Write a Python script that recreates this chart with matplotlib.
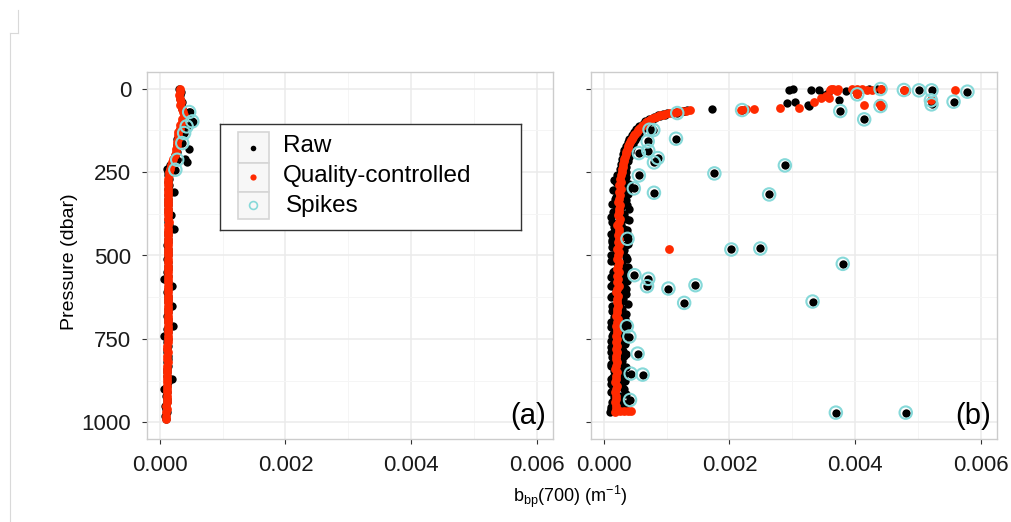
###
# Raw vs quality-controlled bbp(700) profiles, two floats side by side
###

import numpy as np
import matplotlib
matplotlib.use("Agg")
from matplotlib import pyplot as plt
from matplotlib.lines import Line2D
from matplotlib.patches import Rectangle

plt.rcParams['font.family'] = ['Liberation Sans', 'DejaVu Sans']
plt.rcParams['mathtext.fontset'] = 'custom'
plt.rcParams['mathtext.rm'] = 'Liberation Sans'
plt.rcParams['mathtext.it'] = 'Liberation Sans:italic'

# all bbp values below are in 1e-3 m^-1, pressure in dbar
SCALE = 1e-3

# ---- panel (a)
pres_a = [0, 10, 20, 30, 40, 50, 60, 70, 80, 90, 100, 110, 120, 130, 140, 150, 160, 170, 180, 190,
          200, 210, 220, 230, 240, 250, 260, 270, 280, 290, 300, 310, 320, 330, 340, 350, 360, 370,
          380, 390, 400, 410, 420, 430, 440, 450, 460, 470, 480, 490, 500, 510, 520, 530, 540, 550,
          560, 570, 580, 590, 600, 610, 620, 630, 640, 650, 660, 670, 680, 690, 700, 710, 720, 730,
          740, 750, 760, 770, 780, 790, 800, 810, 820, 830, 840, 850, 860, 870, 880, 890, 900, 910,
          920, 930, 940, 950, 960, 970, 980, 990]
qc_a = [0.32, 0.33, 0.31, 0.32, 0.34, 0.33, 0.35,
        0.37, 0.38, 0.36, 0.35, 0.33, 0.32, 0.30,
        0.30, 0.29, 0.28, 0.27, 0.26, 0.26, 0.25,
        0.22, 0.20, 0.18, 0.16, 0.15,
        0.15, 0.14, 0.14, 0.14, 0.14, 0.13, 0.14, 0.13, 0.14, 0.14, 0.13, 0.14, 0.14, 0.14, 0.15,
        0.14, 0.14, 0.13, 0.13, 0.14, 0.13, 0.13, 0.13, 0.14, 0.13, 0.13, 0.14, 0.13, 0.13, 0.13,
        0.14, 0.14, 0.13, 0.13, 0.13,
        0.13, 0.14, 0.14, 0.13, 0.13, 0.14, 0.13, 0.13, 0.13, 0.13, 0.13, 0.13, 0.14, 0.13, 0.13,
        0.13, 0.12, 0.12, 0.13, 0.12,
        0.12, 0.13, 0.12, 0.12, 0.12, 0.12, 0.12, 0.12, 0.12, 0.11, 0.11, 0.11, 0.11, 0.11, 0.10,
        0.11, 0.10, 0.10, 0.10]
raw_a = [0.31, 0.34, 0.32, 0.33, 0.35, 0.34, 0.36,
         0.48, 0.40, 0.37, 0.53, 0.34, 0.33, 0.31,
         0.31, 0.28, 0.29, 0.27, 0.47, 0.27, 0.24,
         0.41, 0.44, 0.17, 0.12, 0.14,
         0.14, 0.15, 0.13, 0.15, 0.14, 0.23, 0.13, 0.14, 0.13, 0.14, 0.14, 0.13, 0.18, 0.13, 0.14,
         0.15, 0.23, 0.13, 0.14, 0.13, 0.14, 0.12, 0.14, 0.13, 0.14, 0.12, 0.13, 0.14, 0.13, 0.12,
         0.13, 0.07, 0.14, 0.20, 0.13,
         0.12, 0.14, 0.13, 0.14, 0.20, 0.13, 0.14, 0.12, 0.13, 0.14, 0.22, 0.12, 0.13, 0.07, 0.14,
         0.12, 0.13, 0.11, 0.12, 0.13,
         0.13, 0.12, 0.13, 0.12, 0.11, 0.12, 0.19, 0.13, 0.11, 0.07, 0.12, 0.10, 0.11, 0.12, 0.09,
         0.10, 0.11, 0.09, 0.10]
spike_a_x = [0.47, 0.52, 0.43, 0.39, 0.36, 0.28, 0.25]
spike_a_p = [70, 98, 113, 133, 163, 213, 243]

# ---- panel (b)
pres_b = [64, 66, 68, 70, 72, 74, 76, 78, 80, 83, 86, 89, 92, 95, 98, 101, 105, 109, 113, 117,
          121, 125, 130, 135, 140, 145, 150, 155, 160, 166, 172, 178, 184, 190, 197, 204, 211, 218,
          226, 234, 242, 250, 260, 270, 280, 290, 300, 310, 320, 330, 340, 350, 360, 370, 380, 390,
          400, 410, 420, 430, 440, 450, 460, 470, 480, 490, 500, 510, 520, 530, 540, 550, 560, 570,
          580, 590, 600, 610, 620, 630, 640, 650, 660, 670, 680, 690, 700, 710, 720, 730, 740, 750,
          760, 770, 780, 790, 800, 810, 820, 830, 840, 850, 860, 870, 880, 890, 900, 910, 920, 930,
          940, 950, 960, 970]
qc_b = [1.37, 1.31, 1.24, 1.17, 1.10, 1.04, 0.98, 0.94, 0.90,
        0.86, 0.83, 0.79, 0.76, 0.73, 0.70, 0.68,
        0.66, 0.63, 0.61, 0.58, 0.56, 0.55,
        0.53, 0.50, 0.49, 0.46, 0.45, 0.44, 0.42,
        0.41, 0.39, 0.38, 0.37, 0.36,
        0.35, 0.34, 0.33, 0.33, 0.31, 0.31, 0.30, 0.29,
        0.28, 0.26, 0.27, 0.25, 0.27, 0.24, 0.26, 0.25, 0.23, 0.26,
        0.24, 0.25, 0.23, 0.26, 0.24, 0.22, 0.25, 0.24, 0.23, 0.25,
        0.23, 0.24, 0.22, 0.25, 0.23, 0.21, 0.24, 0.23, 0.22, 0.24,
        0.22, 0.23, 0.21, 0.24, 0.22, 0.20, 0.23, 0.22, 0.21, 0.23,
        0.21, 0.22, 0.20, 0.23, 0.21, 0.20, 0.22, 0.21, 0.19, 0.22,
        0.20, 0.21, 0.19, 0.22, 0.20, 0.19, 0.21, 0.20, 0.18, 0.21,
        0.19, 0.20, 0.18, 0.21, 0.19, 0.18, 0.20, 0.19, 0.18, 0.20,
        0.19, 0.18]
raw_b = [1.33, 1.28, 1.27, 1.15, 1.08, 1.01, 0.95, 0.97, 0.86,
         0.89, 0.80, 0.82, 0.72, 0.77, 0.66, 0.72,
         0.62, 0.68, 0.57, 0.64, 0.52, 0.60,
         0.49, 0.57, 0.45, 0.53, 0.41, 0.50, 0.38,
         0.47, 0.35, 0.44, 0.33, 0.42,
         0.31, 0.40, 0.29, 0.38, 0.27, 0.36, 0.26, 0.35,
         0.22, 0.34, 0.19, 0.31, 0.38, 0.21, 0.33, 0.18, 0.30, 0.37,
         0.40, 0.15, 0.29, 0.36, 0.13, 0.27, 0.33, 0.17, 0.38, 0.24,
         0.14, 0.35, 0.26, 0.31, 0.12, 0.37, 0.20, 0.28, 0.34, 0.15,
         0.33, 0.18, 0.29, 0.12, 0.36, 0.24, 0.14, 0.31, 0.27, 0.13,
         0.30, 0.16, 0.26, 0.34, 0.12, 0.28, 0.19, 0.32, 0.13, 0.25,
         0.14, 0.30, 0.22, 0.11, 0.33, 0.17, 0.27, 0.12, 0.29, 0.20,
         0.31, 0.12, 0.25, 0.15, 0.33, 0.11, 0.28, 0.18, 0.13, 0.30,
         0.12, 0.10]
# raw samples taken between the QC levels (float samples every ~5 dbar at depth)
pres_b_mid = [265, 275, 285, 295, 305, 315, 325, 335, 345, 355, 365, 375, 385, 395, 405, 415, 425,
              435, 445, 455, 465, 475, 485, 495, 505, 515, 525, 535, 545, 555, 565, 575, 585, 595,
              605, 615, 625, 635, 645, 655, 665, 675, 685, 695, 705, 715, 725, 735, 745, 755, 765,
              775, 785, 795, 805, 815, 825, 835, 845, 855, 865, 875, 885, 895, 905, 915, 925, 935,
              945, 955, 965]
raw_b_mid = [0.36, 0.17, 0.40, 0.23, 0.15, 0.39, 0.20, 0.35, 0.13, 0.28,
             0.19, 0.33, 0.12, 0.41, 0.21, 0.16, 0.37, 0.11, 0.30, 0.14,
             0.38, 0.13, 0.32, 0.18, 0.36, 0.11, 0.29, 0.39, 0.16, 0.33,
             0.11, 0.37, 0.15, 0.32, 0.19, 0.35, 0.12, 0.28, 0.38, 0.16,
             0.13, 0.35, 0.17, 0.29, 0.37, 0.11, 0.33, 0.15, 0.30, 0.12,
             0.34, 0.11, 0.31, 0.36, 0.14, 0.29, 0.12, 0.35, 0.16, 0.32,
             0.15, 0.34, 0.11, 0.30, 0.13, 0.36, 0.16, 0.27, 0.35, 0.12,
             0.11]

# surface layer (0-65 dbar) and odd points outside the main profile
raw_b_extra_x = [1.73, 2.95, 3.01, 2.92, 3.04, 3.24, 3.29, 3.42, 3.50, 3.56, 3.74, 3.85, 4.22,
                 4.35, 3.27]
raw_b_extra_p = [62, 3, 0, 43, 40, 48, 5, 5, 18, 13, 33, 8, 1, 0, 52]
qc_b_extra_x = [2.18, 2.26, 2.39, 2.81, 3.10, 3.34, 3.45, 3.53, 3.58, 3.61, 3.65, 3.73, 3.95,
                4.03, 4.11, 4.19, 4.27, 4.03, 4.14, 4.38, 4.40, 4.40, 4.77, 4.80, 5.20, 5.59,
                3.71, 3.60, 1.04, 0.26, 0.32, 0.38, 0.44]
qc_b_extra_p = [63, 60, 60, 58, 58, 41, 27, 22, 29, 0, 0, 0, 0,
                0, 0, 3, 3, 15, 50, 43, 53, 1, 3, 6, 33, 5,
                7, 5, 480, 967, 966, 967, 966]
spike_b_x = [2.20, 1.17, 3.76, 4.14, 4.40, 4.40, 4.77, 5.01, 5.21, 5.20, 5.21, 5.56, 5.78, 4.03,
             0.73, 0.79, 0.70, 1.15, 0.56, 0.71, 0.86, 0.80, 0.56, 1.76, 2.88, 0.48, 0.80, 2.63,
             0.38, 2.03, 2.49, 3.80, 0.49, 0.71, 0.69, 1.03, 1.46, 1.28, 3.32, 0.37, 0.41, 0.54,
             0.43, 0.62, 0.42, 3.69, 4.80]
spike_b_p = [64, 73, 67, 92, 52, 1, 4, 5, 5, 35, 47, 39, 9, 17,
             123, 124, 158, 150, 193, 186, 208, 221, 260, 254, 230, 299, 312, 317,
             450, 482, 479, 525, 559, 570, 592, 599, 589, 642, 638, 712, 743, 794,
             854, 857, 933, 971, 971]

RAW_COL = 'black'
QC_COL = '#ff2a00'
SPIKE_COL = '#86d9d9'

x_ticks = [0.0, 0.002, 0.004, 0.006]
x_ticklabels = ['0.000', '0.002', '0.004', '0.006']
y_ticks = [0, 250, 500, 750, 1000]


def style_panel(ax, show_ylabels):
    ax.set_xlim(-0.0002, 0.00625)
    ax.set_ylim(1050, -50)
    ax.set_xticks(x_ticks)
    ax.set_xticklabels(x_ticklabels)
    ax.set_xticks([0.001, 0.003, 0.005], minor=True)
    ax.set_yticks(y_ticks)
    ax.set_yticks([125, 375, 625, 875], minor=True)
    ax.grid(which='major', color='#ebebeb', lw=1.1)
    ax.grid(which='minor', color='#f5f5f5', lw=0.7)
    ax.set_axisbelow(True)
    for s in ax.spines.values():
        s.set_color('#cccccc')
        s.set_linewidth(1.0)
    ax.tick_params(which='major', length=3.5, width=0.8, color='#333333',
                   labelsize=16, labelcolor='#1a1a1a', pad=8)
    ax.tick_params(which='minor', length=0)
    if show_ylabels:
        for lbl in ax.get_yticklabels():
            lbl.set_fontfamily(['Liberation Sans Narrow', 'Liberation Sans'])
    else:
        ax.set_yticklabels([])


def draw_profile(ax, raw_sets, qc_sets, spk_x, spk_p):
    for xs, ps in raw_sets:
        ax.scatter(np.array(xs) * SCALE, ps, s=36, color=RAW_COL, lw=0, zorder=2)
    ax.scatter(np.array(spk_x) * SCALE, spk_p, s=36, color=RAW_COL, lw=0, zorder=2)
    for xs, ps in qc_sets:
        ax.scatter(np.array(xs) * SCALE, ps, s=40, color=QC_COL, lw=0, zorder=3)
    ax.scatter(np.array(spk_x) * SCALE, spk_p, s=80, facecolors='none',
               edgecolors=SPIKE_COL, linewidths=1.5, zorder=4)


fig = plt.figure(figsize=(10.12, 5.22), dpi=100)
W, H = 1012.0, 522.0

ax_a = fig.add_axes([147 / W, 1 - 439 / H, 406 / W, 367 / H])
ax_b = fig.add_axes([591 / W, 1 - 439 / H, 406 / W, 367 / H])

draw_profile(ax_a, [(raw_a, pres_a)], [(qc_a, pres_a)], spike_a_x, spike_a_p)
draw_profile(ax_b,
             [(raw_b, pres_b), (raw_b_mid, pres_b_mid), (raw_b_extra_x, raw_b_extra_p)],
             [(qc_b, pres_b), (qc_b_extra_x, qc_b_extra_p)],
             spike_b_x, spike_b_p)

style_panel(ax_a, True)
style_panel(ax_b, False)

ax_a.text(0.982, 0.063, '(a)', transform=ax_a.transAxes, ha='right', va='center', fontsize=21)
ax_b.text(0.985, 0.063, '(b)', transform=ax_b.transAxes, ha='right', va='center', fontsize=21)

fig.text(70 / W, 1 - 262 / H, 'Pressure (dbar)', rotation=90, ha='center', va='center', fontsize=14)
fig.text(570 / W, 1 - 497 / H, r'b$_{\mathrm{bp}}$(700) (m$^{\mathrm{-1}}$)',
         ha='center', va='center', fontsize=13)

# hand-made ggplot style legend box
leg = fig.add_axes([220 / W, 1 - 230 / H, 301 / W, 106 / H])
leg.set_xlim(0, 301)
leg.set_ylim(106, 0)
leg.set_xticks([])
leg.set_yticks([])
for s in leg.spines.values():
    s.set_color('#333333')
    s.set_linewidth(1.0)
rows = [(8, 31), (39, 29), (68, 27)]
for y0, hgt in rows:
    leg.add_patch(Rectangle((18, y0), 31, hgt, facecolor='#f7f7f7', edgecolor='#d6d6d6', lw=1.2))
leg.scatter([33.5], [23.5], s=16, color=RAW_COL, lw=0)
leg.scatter([33.5], [53.5], s=20, color=QC_COL, lw=0)
leg.scatter([33.5], [81.5], s=32, facecolors='none', edgecolors=SPIKE_COL, linewidths=1.2)
leg.text(63, 22, 'Raw', fontsize=17.5, va='center')
leg.text(63, 52, 'Quality-controlled', fontsize=17.5, va='center')
leg.text(66, 82, 'Spikes', fontsize=17.5, va='center')

# faint page edge marks from the source document
edge = '#d9d9d9'
fig.add_artist(Line2D([10 / W, 10 / W], [0, 1 - 33 / H], transform=fig.transFigure, color=edge, lw=0.8))
fig.add_artist(Line2D([10 / W, 18 / W], [1 - 33 / H, 1 - 33 / H], transform=fig.transFigure, color=edge, lw=0.8))
fig.add_artist(Line2D([18 / W, 18 / W], [1 - 33 / H, 1 - 10 / H], transform=fig.transFigure, color=edge, lw=0.8))

fig.savefig('out.png', dpi=100)
